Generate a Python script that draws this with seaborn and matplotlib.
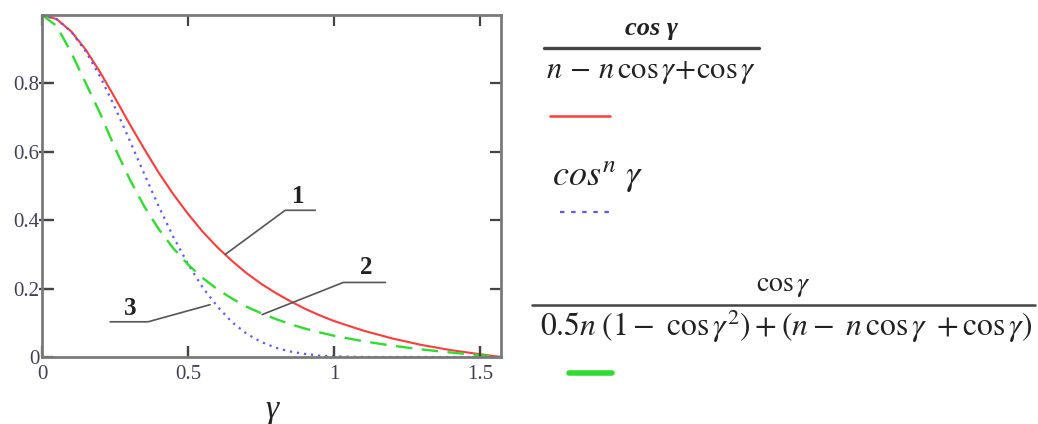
import matplotlib
matplotlib.use("Agg")
import matplotlib.pyplot as plt
from matplotlib.lines import Line2D
import matplotlib.transforms as mtransforms
import numpy as np
import pandas as pd
import seaborn as sns

# ---- data ----
gamma = [0.0, 0.05, 0.10, 0.15, 0.20, 0.25, 0.30, 0.35, 0.40, 0.45, 0.50,
         0.55, 0.60, 0.65, 0.70, 0.75, 0.80, 0.85, 0.90, 0.95, 1.00,
         1.10, 1.20, 1.30, 1.40, 1.50, 1.57]
curve1 = [1.000, 0.988, 0.952, 0.898, 0.831, 0.757, 0.681, 0.608, 0.538, 0.475, 0.418,
          0.366, 0.321, 0.281, 0.245, 0.214, 0.187, 0.163, 0.141, 0.122, 0.105,
          0.077, 0.054, 0.035, 0.020, 0.008, 0.000]
curve3 = [1.000, 0.988, 0.951, 0.893, 0.818, 0.729, 0.633, 0.535, 0.439, 0.350, 0.271,
          0.203, 0.148, 0.102, 0.068, 0.044, 0.027, 0.016, 0.009, 0.004, 0.002,
          0.000, 0.000, 0.000, 0.000, 0.000, 0.000]
curve2 = [1.000, 0.968, 0.890, 0.800, 0.710, 0.610, 0.520, 0.440, 0.373, 0.317, 0.270,
          0.231, 0.198, 0.171, 0.147, 0.128, 0.111, 0.096, 0.083, 0.072, 0.062,
          0.046, 0.033, 0.022, 0.013, 0.005, 0.000]
xticks = [0, 0.5, 1, 1.5]
xticklabels = ["0", "0.5", "1", "1.5"]
yticks = [0, 0.2, 0.4, 0.6, 0.8]
yticklabels = ["0", "0.2", "0.4", "0.6", "0.8"]

df = pd.DataFrame({"gamma": gamma, "c1": curve1, "c2": curve2, "c3": curve3})

sns.set_theme(style="ticks")
plt.rcParams["mathtext.fontset"] = "stix"
plt.rcParams["xtick.bottom"] = True
plt.rcParams["xtick.top"] = True
plt.rcParams["ytick.left"] = True
plt.rcParams["ytick.right"] = True
plt.rcParams["xtick.direction"] = "in"
plt.rcParams["ytick.direction"] = "in"
plt.rcParams["xtick.major.size"] = 8
plt.rcParams["ytick.major.size"] = 8

fig = plt.figure(figsize=(10.38, 4.24), dpi=100)
ax = fig.add_axes([0.0405, 0.158, 0.4422, 0.8066])

RED = "#ff3b3b"
BLUE = "#5a5aff"
GREEN = "#2fdc2f"

sns.lineplot(data=df, x="gamma", y="c1", ax=ax, color=RED, lw=1.5)
sns.lineplot(data=df, x="gamma", y="c3", ax=ax, color=BLUE, lw=1.6,
             linestyle=(0, (1, 2.2)))
sns.lineplot(data=df, x="gamma", y="c2", ax=ax, color=GREEN, lw=1.7,
             linestyle=(0, (7, 4)))

ax.set_xlim(0, 1.5708)
ax.set_ylim(0, 1.0)
ax.set_xticks(xticks)
ax.set_xticklabels(xticklabels)
ax.set_yticks(yticks)
ax.set_yticklabels(yticklabels)
ax.set_ylabel("")
ax.set_xlabel("γ", fontsize=24, family="Liberation Serif", style="italic",
              color="#222222", labelpad=7)

for s in ax.spines.values():
    s.set_visible(True)
    s.set_color("#7a7a7a")
    s.set_linewidth(2.0)
ax.tick_params(axis="both", which="major", direction="in", length=8, width=1.6,
               color="#444444", top=True, right=True, left=True, bottom=True,
               labelsize=15, labelcolor="#404058")
ax.tick_params(axis="x", pad=6)
ax.tick_params(axis="y", pad=2)
for lab in ax.get_xticklabels() + ax.get_yticklabels():
    lab.set_family("Liberation Serif")

# reinforce left / bottom inward tick marks (same positions as the axis ticks)
ytr = mtransforms.blended_transform_factory(ax.transAxes, ax.transData)
xtr = mtransforms.blended_transform_factory(ax.transData, ax.transAxes)
for yv in yticks[1:]:
    ax.plot([-0.006, 0.025], [yv, yv], transform=ytr, color="#444444", lw=1.6,
            clip_on=False, solid_capstyle="butt")
for xv in xticks[1:]:
    ax.plot([xv, xv], [0, 0.032], transform=xtr, color="#444444", lw=1.6,
            clip_on=False, solid_capstyle="butt")

# curve number leaders
LC = "#555555"
ax.plot([0.627, 0.832, 0.935], [0.300, 0.429, 0.429], color=LC, lw=1.2)
ax.plot([0.753, 1.031, 1.175], [0.124, 0.218, 0.218], color=LC, lw=1.2)
ax.plot([0.233, 0.363, 0.575], [0.103, 0.103, 0.153], color=LC, lw=1.2)
for xx, yy, t in [(0.877, 0.437, "1"), (1.110, 0.227, "2"), (0.301, 0.108, "3")]:
    ax.text(xx, yy, t, fontsize=18, weight="bold", family="Liberation Serif",
            ha="center", va="bottom", color="#222222")

# ---- right-side legend (formulas) ----
W, H = 1038.0, 424.0
def fx(px):
    return px / W
def fy(py):
    return 1 - py / H

TC = "#222222"
fig.text(fx(651), fy(29), "cos γ", fontsize=19, style="italic", weight="bold",
         family="Liberation Serif", ha="center", va="center", color=TC)
fig.add_artist(Line2D([fx(544), fx(759)], [fy(48), fy(48)], color="#444444", lw=2.4))
fig.text(fx(651), fy(72), r"$n\,-\,n\,\cos\gamma\!+\!\cos\gamma$", fontsize=22,
         ha="center", va="center", color=TC)
fig.add_artist(Line2D([fx(550), fx(610)], [fy(116), fy(116)], color=RED, lw=1.8))

fig.text(fx(552), fy(176), r"$cos^{n}\ \gamma$", fontsize=26,
         ha="left", va="center", color=TC)
fig.add_artist(Line2D([fx(560), fx(612)], [fy(212), fy(212)], color=BLUE, lw=1.6,
                      linestyle=(0, (2, 3))))

fig.text(fx(783), fy(285), r"$\cos\gamma$", fontsize=20, ha="center", va="center",
         color=TC)
fig.add_artist(Line2D([fx(532), fx(1035)], [fy(305), fy(305)], color="#444444", lw=1.8))
fig.text(fx(786), fy(326),
         r"$0.5n\;(1 -\ \cos\gamma^{2}) + (n -\ n\,\cos\gamma\ + \cos\gamma)$",
         fontsize=22.8, ha="center", va="center", color=TC)
fig.add_artist(Line2D([fx(569), fx(612)], [fy(373), fy(373)], color=GREEN, lw=4))

fig.savefig("out.png", dpi=100)
